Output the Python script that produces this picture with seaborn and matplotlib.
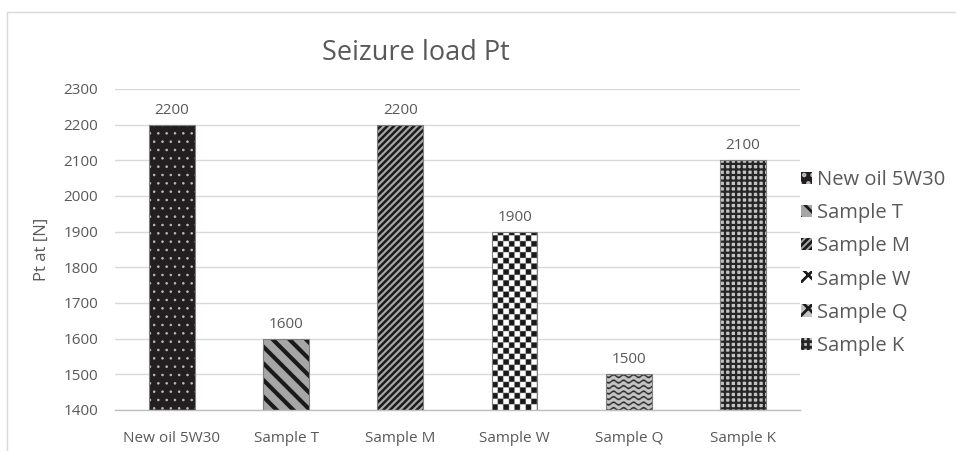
import numpy as np
import pandas as pd
import matplotlib
matplotlib.use("Agg")
import matplotlib.pyplot as plt
from matplotlib.patches import Patch, Rectangle
from matplotlib.lines import Line2D
import seaborn as sns

categories = ["New oil 5W30", "Sample T", "Sample M", "Sample W", "Sample Q", "Sample K"]
values = [2200, 1600, 2200, 1900, 1500, 2100]
yticks = [1400, 1500, 1600, 1700, 1800, 1900, 2000, 2100, 2200, 2300]
title = "Seizure load Pt"
ylabel = "Pt at [N]"

sns.set_theme(style="white")
plt.rcParams["font.family"] = ["Open Sans", "DejaVu Sans"]
plt.rcParams["hatch.linewidth"] = 2.0
TXT = "#595959"

df = pd.DataFrame({"cat": categories, "val": values})

fig = plt.figure(figsize=(9.56, 4.51), dpi=100)
ax = fig.add_axes([0.120, 0.091, 0.717, 0.712])

styles = {
    "New oil 5W30": dict(face="#231f20", hatch="..", hc="#bdbdbd", hlw=0.6),
    "Sample T": dict(face="#a6a6a6", hatch="\\\\", hc="#1a1a1a", hlw=3.0),
    "Sample M": dict(face="#a6a6a6", hatch="/////", hc="#1a1a1a", hlw=1.8),
    "Sample W": dict(face="#ffffff", hatch=None, hc="#1a1a1a", hlw=1.0),
    "Sample Q": dict(face="#c4c4c4", hatch=None, hc="#1a1a1a", hlw=1.0),
    "Sample K": dict(face="#c4c4c4", hatch="+++", hc="#262626", hlw=1.6),
}
palette = {c: styles[c]["face"] for c in categories}

sns.barplot(data=df, x="cat", y="val", hue="cat", palette=palette, dodge=False,
            width=0.40, legend=False, ax=ax, saturation=1)

ax.set_ylim(yticks[0], yticks[-1])
ax.set_xlim(-0.5, len(categories) - 0.5)

def set_hlw(p, lw):
    if hasattr(p, "set_hatch_linewidth"):
        try:
            p.set_hatch_linewidth(lw)
        except Exception:
            pass

bars = list(ax.patches)
for p, c in zip(bars, categories):
    st = styles[c]
    p.set_zorder(2)
    p.set_linewidth(0)
    if st["hatch"]:
        p.set_hatch(st["hatch"])
        p.set_edgecolor(st["hc"])
        set_hlw(p, st["hlw"])

# textures for checkerboard and wave patterns
def texture_image(kind, p):
    x0, y0 = p.get_x(), max(p.get_y(), yticks[0])
    x1, y1 = x0 + p.get_width(), p.get_y() + p.get_height()
    (px0, py0) = ax.transData.transform((x0, y0))
    (px1, py1) = ax.transData.transform((x1, y1))
    w = int(round(px1 - px0)) * 4
    h = int(round(py1 - py0)) * 4
    yy, xx = np.mgrid[0:h, 0:w] / 4.0
    if kind == "checker":
        cell = 5.6
        img = ((np.floor(xx / cell) + np.floor(yy / cell)) % 2).astype(float)
        rgb = np.where(img[..., None] > 0, np.array([1, 1, 1]), np.array([0.1, 0.1, 0.1]))
    else:
        spacing = 5.5
        d = (yy + 1.3 * np.sin(2 * np.pi * xx / 10.0)) % spacing
        line = (d < 1.6)
        rgb = np.where(line[..., None], np.array([0.12, 0.12, 0.12]), np.array([0.77, 0.77, 0.77]))
    im = ax.imshow(rgb, extent=(x0, x1, y0, y1), aspect="auto", origin="lower",
                   interpolation="bilinear", zorder=2.5)
    im.set_clip_path(p)

for p, c in zip(bars, categories):
    if c == "Sample W":
        texture_image("checker", p)
    elif c == "Sample Q":
        texture_image("wave", p)

ax.set_xlim(-0.5, len(categories) - 0.5)
ax.set_ylim(yticks[0], yticks[-1])

# outlines
for p in bars:
    ax.add_patch(Rectangle((p.get_x(), p.get_y()), p.get_width(), p.get_height(),
                           fill=False, edgecolor="#7f7f7f", linewidth=0.8, zorder=3))

# value labels
for p, v in zip(bars, values):
    ax.annotate(f"{v}", (p.get_x() + p.get_width() / 2, v), xytext=(0, 5),
                textcoords="offset points", ha="center", va="bottom",
                fontsize=11, color=TXT)

ax.set_yticks(yticks)
ax.yaxis.grid(True, color="#d9d9d9", linewidth=1.0, zorder=0)
ax.set_axisbelow(True)
for s in ["top", "right", "left"]:
    ax.spines[s].set_visible(False)
ax.spines["bottom"].set_color("#bfbfbf")
ax.spines["bottom"].set_linewidth(1.0)
ax.tick_params(axis="both", length=0, labelsize=11, colors=TXT)
ax.tick_params(axis="y", pad=12)
ax.tick_params(axis="x", pad=15)
ax.set_xlabel("")
ax.set_ylabel(ylabel, fontsize=12, color=TXT, labelpad=10)

fig.text(416 / 956, 1 - 53 / 451, title, ha="center", va="center", fontsize=19.5, color=TXT)

# legend
leg_style = {"Sample W": dict(face="#ffffff", hatch="xx"),
             "Sample Q": dict(face="#c4c4c4", hatch="xx")}
handles = []
for c in categories:
    st = styles[c]
    face = st["face"] if st["hatch"] else leg_style[c]["face"]
    h = st["hatch"] or leg_style[c]["hatch"]
    hp = Patch(facecolor=face, edgecolor=st["hc"], hatch=h, linewidth=0, label=c)
    handles.append(hp)
leg = fig.legend(handles=handles, loc="center left", bbox_to_anchor=(0.838, 1 - 263 / 451),
                 frameon=False, fontsize=14.5, handlelength=0.55, handleheight=0.55,
                 handletextpad=0.25, labelspacing=0.65, borderpad=0, borderaxespad=0)
for t in leg.get_texts():
    t.set_color(TXT)

# chart border (top and left)
fig.add_artist(Line2D([7 / 956, 1], [1 - 12 / 451, 1 - 12 / 451], color="#d9d9d9", lw=1))
fig.add_artist(Line2D([7 / 956, 7 / 956], [0, 1 - 12 / 451], color="#d9d9d9", lw=1))

fig.savefig("out.png", dpi=100)
